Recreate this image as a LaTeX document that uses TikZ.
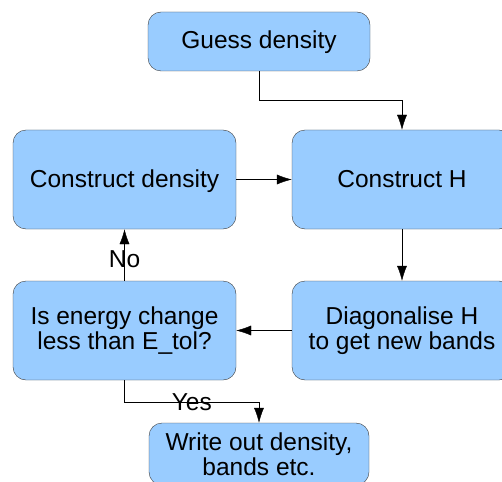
\documentclass[tikz,border=0pt]{standalone}
\usepackage{fontspec}
\setmainfont{Liberation Sans}
\usepackage{tikz}
\usetikzlibrary{arrows.meta}
\definecolor{boxblue}{HTML}{99CCFF}
\definecolor{boxline}{HTML}{3A3A3A}
\tikzset{>={Latex[length=15pt,width=10pt]}}

\begin{document}
\begin{tikzpicture}[x=1pt,y=-1pt]
                % scf loop, drawn in pixel units (y runs down)
                \tikzstyle{block}=[rectangle, rounded corners=13pt, draw=boxline, fill=boxblue, inner sep=0pt, font=\fontsize{24.5}{25.5}\selectfont]
                \tikzstyle{oneline}=[text height=17.5pt, text depth=2.5pt]
                \tikzstyle{twoline}=[align=center]
                \tikzstyle{every edge}=[black, draw]
                \useasboundingbox (0,0) rectangle (502,481);
                \clip (0,0) rectangle (502,481);

                \node[block, oneline, minimum width=222pt, minimum height=59pt] (guess) at (259, 41.5) {Guess density};

                \node[block, oneline, minimum width=223pt, minimum height=99pt] (cdens) at (124.5, 179.5) {Construct density};
                \node[block, oneline, minimum width=220pt, minimum height=99pt] (consH) at (402, 179.5) {Construct H};

                \node[block, twoline, minimum width=223pt, minimum height=99pt] (check) at (124.5, 330.5) {Is energy change\\less than E\_tol?};
                \node[block, twoline, minimum width=220pt, minimum height=99pt] (diag) at (402, 330.5) {Diagonalise H\\to get new bands};

                \node[block, twoline, minimum width=220pt, minimum height=62pt] (write) at (259, 454) {Write out density,\\bands etc.};

                \draw[->] (guess.south) -- ++(0,29) -| (consH.north);
                \draw[->] (cdens.east) -- (consH.west);
                \draw[->] (consH.south) -- (diag.north);
                \draw[->] (diag.west) -- (check.east);
                \draw[->] (check.north) -- node[font=\fontsize{24.5}{26}\selectfont, yshift=-4pt] (no) {No} (cdens.south);
                \draw[->] (check.south) -- ++(0,22) -| node[pos=0.25, font=\fontsize{24.5}{26}\selectfont] (yes) {Yes} (write.north);

        \end{tikzpicture}
\end{document}
